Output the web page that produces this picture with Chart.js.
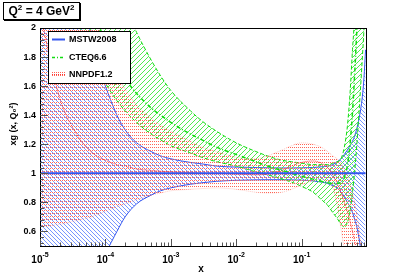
<!DOCTYPE html>
<html lang="en">
  <head>
    <meta charset="UTF-8" />
    <title>xg ratio</title>
    <style>
      body { margin: 0; background: #fff; }
      #wrap { position: relative; width: 407px; height: 275px; }
      #qbox {
        position: absolute; left: 3px; top: 2px; width: 75px; height: 16px;
        border: 1px solid #000; box-shadow: 1px 1px 0 #000; background: #fff;
        font: bold 12px "Liberation Sans", Arial, sans-serif; line-height: 16px;
        text-align: center; z-index: 2;
      }
      #qbox sup { font-size: 8px; line-height: 0; }
    </style>
  </head>
  <body>
    <div id="wrap">
      <div id="qbox">Q<sup>2</sup> = 4 GeV<sup>2</sup></div>
      <canvas id="myChart" width="407" height="275"></canvas>
    </div>

    <script src="https://cdn.jsdelivr.net/npm/chart.js"></script>
    <script>
      // x grid shared by every curve
      const xs = [1e-5, 2e-5, 4e-5, 6e-5, 8e-5, 1e-4, 1.5e-4, 2e-4, 3e-4, 5e-4, 7e-4,
                  1e-3, 2e-3, 3e-3, 5e-3, 1e-2, 2e-2, 3e-2, 5e-2, 0.07, 0.1, 0.15, 0.2,
                  0.25, 0.3, 0.35, 0.4, 0.45, 0.5, 0.55, 0.6, 0.65, 0.7, 0.75, 0.8, 0.85, 0.9, 0.95];

      // MSTW2008 (reference, ratio = 1)
      const mstwCentral = xs.map(() => 1);
      const mstwUp = [4.0, 3.2, 2.4, 1.98, 1.72, 1.60, 1.40, 1.30, 1.21, 1.15, 1.12,
                      1.10, 1.075, 1.065, 1.05, 1.043, 1.04, 1.038, 1.037, 1.037, 1.038, 1.04, 1.045,
                      1.05, 1.06, 1.08, 1.10, 1.13, 1.16, 1.19, 1.22, 1.26, 1.31, 1.37, 1.44, 1.53, 1.66, 1.85];
      const mstwLow = [-0.5, -0.2, 0.1, 0.25, 0.38, 0.45, 0.60, 0.70, 0.79, 0.85, 0.88,
                       0.90, 0.925, 0.935, 0.945, 0.952, 0.955, 0.956, 0.956, 0.955, 0.953, 0.948, 0.94,
                       0.93, 0.915, 0.90, 0.87, 0.84, 0.80, 0.77, 0.73, 0.68, 0.63, 0.56, 0.48, 0.38, 0.25, 0.1];

      // CTEQ6.6
      const cteqCentral = [3.8, 3.1, 2.5, 2.2, 2.02, 1.9, 1.74, 1.65, 1.55, 1.45, 1.40,
                           1.35, 1.27, 1.23, 1.18, 1.13, 1.08, 1.05, 1.02, 1.0, 0.98, 0.96, 0.945,
                           0.935, 0.93, 0.93, 0.94, 0.97, 1.05, 1.2, 1.42, 1.7, 2.0, 2.4, 2.8, 3.2, 3.6, 4.0];
      const cteqUp = [5.0, 4.2, 3.4, 3.0, 2.75, 2.55, 2.3, 2.15, 1.97, 1.78, 1.67,
                      1.57, 1.43, 1.36, 1.29, 1.21, 1.15, 1.12, 1.09, 1.08, 1.07, 1.06, 1.06,
                      1.06, 1.07, 1.08, 1.10, 1.18, 1.32, 1.55, 1.85, 2.1, 2.5, 3.0, 3.5, 4.0, 4.5, 5.0];
      const cteqLow = [2.8, 2.35, 2.0, 1.82, 1.70, 1.62, 1.50, 1.43, 1.35, 1.27, 1.23,
                       1.19, 1.14, 1.11, 1.08, 1.05, 1.01, 0.99, 0.96, 0.94, 0.91, 0.87, 0.82,
                       0.78, 0.73, 0.69, 0.65, 0.63, 0.66, 0.74, 0.87, 1.02, 1.2, 1.4, 1.6, 1.8, 2.0, 2.3];

      // NNPDF1.2
      const nnCentral = [2.1, 1.52, 1.24, 1.15, 1.11, 1.09, 1.06, 1.05, 1.03, 1.02, 1.015,
                         1.01, 1.005, 1.0, 1.0, 0.995, 0.99, 0.995, 1.02, 1.05, 1.075, 1.085, 1.07,
                         1.04, 0.99, 0.93, 0.87, 0.80, 0.74, 0.67, 0.60, 0.53, 0.46, 0.40, 0.33, 0.26, 0.2, 0.1];
      const nnUp = [3.5, 2.9, 2.4, 2.15, 2.0, 1.87, 1.68, 1.58, 1.47, 1.38, 1.33,
                    1.29, 1.22, 1.18, 1.15, 1.11, 1.10, 1.12, 1.16, 1.19, 1.21, 1.20, 1.18,
                    1.15, 1.12, 1.10, 1.07, 1.03, 0.99, 0.93, 0.86, 0.80, 0.72, 0.63, 0.52, 0.42, 0.3, 0.2];
      const nnLow = [0.63, 0.65, 0.68, 0.70, 0.72, 0.74, 0.77, 0.79, 0.82, 0.85, 0.865,
                     0.88, 0.89, 0.895, 0.90, 0.89, 0.87, 0.865, 0.87, 0.89, 0.92, 0.95, 0.96,
                     0.94, 0.90, 0.78, 0.62, 0.47, 0.3, 0.15, 0.0, -0.1, -0.2, -0.3, -0.4, -0.5, -0.6, -0.7];

      const yTicks = [0.6, 0.8, 1, 1.2, 1.4, 1.6, 1.8, 2];
      const xDecades = [1e-5, 1e-4, 1e-3, 1e-2, 1e-1];
      const decadeExp = ['-5', '-4', '-3', '-2', '-1'];

      const pts = arr => xs.map((x, i) => ({ x: x, y: arr[i] }));

      // small repeating hatch tiles, ROOT-like
      function hatch(color, kind) {
        const c = document.createElement('canvas');
        const g = c.getContext('2d');
        if (kind === 'dots') {
          c.width = 4; c.height = 3;
          g.fillStyle = color;
          g.fillRect(0, 0, 1, 1); g.fillRect(2, 0, 1, 1);
        } else {
          const s = kind === 'back' ? 4 : 5;
          c.width = s; c.height = s;
          g.fillStyle = color;
          for (let i = 0; i < s; i++) {
            if (kind === 'back') g.fillRect(i, i, 1, 1);
            else g.fillRect(i, s - 1 - i, 1, 1);
          }
        }
        return g.createPattern(c, 'repeat');
      }

      const blueHatch = hatch('rgb(120,150,255)', 'back');
      const greenHatch = hatch('rgb(80,235,80)', 'fwd');
      const redHatch = hatch('rgb(255,100,85)', 'dots');

      const BLUE = '#3355ee', GREEN = '#11dd11', RED = '#ff3030';
      const FONT = '"Liberation Sans", Arial, sans-serif';

      function band(data, color, width, dash, order, fill, bg) {
        return {
          data: pts(data), borderColor: color, borderWidth: width, borderDash: dash,
          pointRadius: 0, cubicInterpolationMode: 'monotone', order: order,
          fill: fill, backgroundColor: bg || 'transparent'
        };
      }

      const decor = {
        id: 'decor',
        afterDraw(chart) {
          const { ctx, chartArea: a, scales } = chart;
          const xS = scales.x, yS = scales.y;
          ctx.save();
          // frame
          ctx.strokeStyle = '#000'; ctx.lineWidth = 1;
          ctx.strokeRect(a.left + 0.5, a.top + 0.5, a.right - a.left - 1, a.bottom - a.top);
          // x ticks, inside the frame
          ctx.strokeStyle = '#555';
          ctx.beginPath();
          for (let d = -5; d < 0; d++) {
            for (let m = 1; m < 10; m++) {
              const px = Math.round(xS.getPixelForValue(m * Math.pow(10, d))) + 0.5;
              const len = m === 1 ? 7 : 3.5;
              ctx.moveTo(px, a.bottom); ctx.lineTo(px, a.bottom - len);
            }
          }
          // y ticks
          for (let v = 0.52; v < 2.0; v += 0.04) {
            const py = Math.round(yS.getPixelForValue(v)) + 0.5;
            const major = Math.abs((v * 5) - Math.round(v * 5)) < 1e-6;
            ctx.moveTo(a.left, py); ctx.lineTo(a.left + (major ? 8 : 4), py);
          }
          ctx.stroke();

          // x tick labels: 10 with raised exponent
          ctx.fillStyle = '#000';
          ctx.textBaseline = 'alphabetic'; ctx.textAlign = 'left';
          xDecades.forEach((v, i) => {
            const px = xS.getPixelForValue(v);
            ctx.font = 'bold 10px ' + FONT;
            const w1 = ctx.measureText('10').width;
            ctx.font = 'bold 7px ' + FONT;
            const w2 = ctx.measureText(decadeExp[i]).width;
            const x0 = px - (w1 + w2) / 2;
            ctx.font = 'bold 10px ' + FONT;
            ctx.fillText('10', x0, 263);
            ctx.font = 'bold 7px ' + FONT;
            ctx.fillText(decadeExp[i], x0 + w1, 257);
          });

          // axis titles
          ctx.font = 'bold 10px ' + FONT;
          ctx.textAlign = 'center'; ctx.textBaseline = 'middle';
          ctx.fillText('x', 201, 269);
          ctx.save();
          ctx.translate(14, 124); ctx.rotate(-Math.PI / 2);
          ctx.font = 'bold 9px ' + FONT;
          ctx.fillText('xg (x, Q₀²)', 0, 0);
          ctx.restore();

          // legend
          ctx.fillStyle = '#fff';
          ctx.fillRect(48, 31, 82, 52);
          ctx.strokeStyle = '#000';
          ctx.strokeRect(48.5, 31.5, 82, 52);
          ctx.lineWidth = 2; ctx.strokeStyle = BLUE;
          ctx.beginPath(); ctx.moveTo(52, 39.5); ctx.lineTo(65, 39.5); ctx.stroke();
          ctx.lineWidth = 1.5; ctx.strokeStyle = GREEN; ctx.setLineDash([3, 2, 1, 2]);
          ctx.beginPath(); ctx.moveTo(52, 57.5); ctx.lineTo(65, 57.5); ctx.stroke();
          ctx.setLineDash([]);
          ctx.fillStyle = redHatch; ctx.fillRect(52, 71, 13, 7);
          ctx.lineWidth = 1; ctx.strokeStyle = RED; ctx.setLineDash([1, 1]);
          ctx.beginPath(); ctx.moveTo(52, 74.5); ctx.lineTo(65, 74.5); ctx.stroke();
          ctx.setLineDash([]);
          ctx.fillStyle = '#000';
          ctx.font = 'bold 9px ' + FONT;
          ctx.textAlign = 'left';
          ctx.fillText('MSTW2008', 69, 40);
          ctx.fillText('CTEQ6.6', 69, 58);
          ctx.fillText('NNPDF1.2', 69, 75);
          ctx.restore();
        }
      };

      const ctx = document.getElementById('myChart');
      const myChart = new Chart(ctx, {
        type: 'line',
        data: {
          datasets: [
            band(mstwLow, BLUE, 1, [], 12, false),
            band(mstwUp, BLUE, 1, [], 12, '-1', blueHatch),
            band(cteqLow, GREEN, 1, [4, 2], 11, false),
            band(cteqUp, GREEN, 1, [4, 2], 11, '-1', greenHatch),
            band(nnLow, 'rgba(255,80,60,0.5)', 0.6, [1, 1], 10, false),
            band(nnUp, 'rgba(255,80,60,0.5)', 0.6, [1, 1], 10, '-1', redHatch),
            band(nnCentral, RED, 1, [1, 1], 2, false),
            band(cteqCentral, GREEN, 1.5, [4, 2, 1, 2], 1, false),
            band(mstwCentral, BLUE, 2, [], 0, false)
          ]
        },
        options: {
          responsive: false,
          animation: false,
          devicePixelRatio: 1,
          layout: { padding: { left: 0, right: 40, top: 28, bottom: 0 } },
          plugins: { legend: { display: false }, tooltip: { enabled: false } },
          scales: {
            x: {
              type: 'logarithmic', min: 1e-5, max: 1,
              grid: { display: false, drawTicks: false }, border: { display: false },
              ticks: { display: false },
              afterFit: s => { s.height = 29; }
            },
            y: {
              min: 0.5, max: 2,
              grid: { display: false, drawTicks: false }, border: { display: false },
              afterBuildTicks: s => { s.ticks = yTicks.map(v => ({ value: v })); },
              ticks: {
                padding: 4, color: '#000',
                font: { family: FONT, size: 9, weight: 'bold' },
                callback: v => String(Math.round(v * 10) / 10)
              },
              afterFit: s => { s.width = 40; }
            }
          }
        },
        plugins: [decor]
      });
    </script>
  </body>
</html>
